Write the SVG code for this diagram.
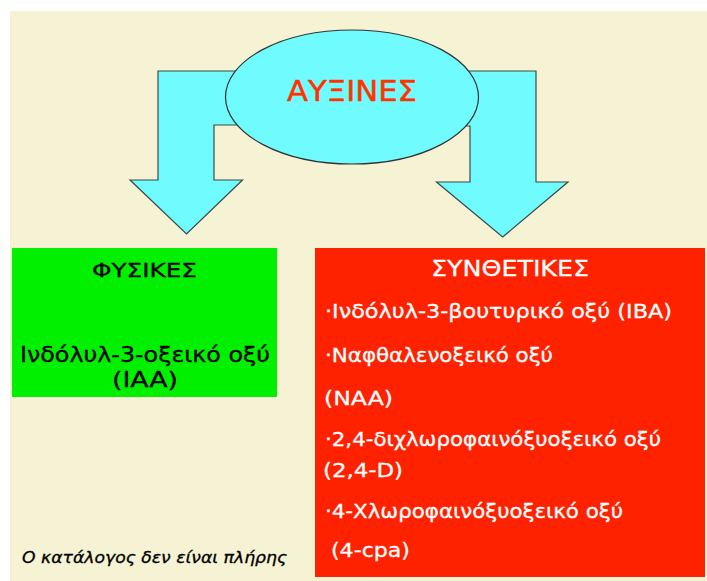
<svg xmlns="http://www.w3.org/2000/svg" width="707" height="581" viewBox="0 0 707 581">
<style>
.arrow{fill:#70FBFF;stroke:#3a4a4a;stroke-width:1.2;stroke-linejoin:miter}
.t{font-family:"DejaVu Sans","Noto Sans",sans-serif}
.w{fill:#ffffff;font-size:20px;stroke:#ffffff;stroke-width:0.3}
.k{fill:#000000;stroke:#000000;stroke-width:0.3}
</style>
<rect x="0" y="0" width="707" height="581" fill="#ffffff"/>
<rect x="10" y="11" width="697" height="570" fill="#F5F3D3"/>
<g id="connectors">
<polygon class="arrow" points="158,71 300,71 300,125 214,125 214,180 242.5,180 186.5,234 130,180 158,180"/>
<polygon class="arrow" points="536,71 400,71 400,126 470,126 470,182 436.5,182 502.7,237 568,182 536,182"/>
</g>
<g id="auxines">
<ellipse cx="352" cy="97" rx="126.5" ry="67" fill="#70FBFF" stroke="#333333" stroke-width="1.2"/>
<text class="t" x="352" y="101" font-size="29" fill="#FF3300" stroke="#FF3300" stroke-width="0.5" text-anchor="middle" textLength="130" lengthAdjust="spacingAndGlyphs">ΑΥΞΙΝΕΣ</text>
</g>
<g id="fysikes">
<rect x="12" y="248" width="265" height="149" fill="#00F000"/>
<text class="t k" x="144.5" y="277" font-size="20" stroke-width="0.7" text-anchor="middle" textLength="105" lengthAdjust="spacingAndGlyphs">ΦΥΣΙΚΕΣ</text>
<text class="t k" x="145" y="362" font-size="21" text-anchor="middle" textLength="250" lengthAdjust="spacingAndGlyphs">Ινδόλυλ-3-οξεικό οξύ</text>
<text class="t k" x="145" y="387" font-size="21" text-anchor="middle" textLength="66" lengthAdjust="spacingAndGlyphs">(IAA)</text>
</g>
<g id="synthetikes">
<rect x="315" y="248" width="390" height="329" fill="#FF2200"/>
<text class="t" x="510" y="276" font-size="21" fill="#ffffff" stroke="#ffffff" stroke-width="0.3" text-anchor="middle" textLength="158" lengthAdjust="spacingAndGlyphs">ΣΥΝΘΕΤΙΚΕΣ</text>
<text class="t w" x="325" y="318" textLength="347" lengthAdjust="spacingAndGlyphs">·Ινδόλυλ-3-βουτυρικό οξύ (IBA)</text>
<text class="t w" x="325" y="362" textLength="228" lengthAdjust="spacingAndGlyphs">·Ναφθαλενοξεικό οξύ</text>
<text class="t w" x="324" y="405" textLength="69" lengthAdjust="spacingAndGlyphs">(NAA)</text>
<text class="t w" x="325" y="446" textLength="336" lengthAdjust="spacingAndGlyphs">·2,4-διχλωροφαινόξυοξεικό οξύ</text>
<text class="t w" x="323" y="477" textLength="80" lengthAdjust="spacingAndGlyphs">(2,4-D)</text>
<text class="t w" x="325" y="518" textLength="298" lengthAdjust="spacingAndGlyphs">·4-Χλωροφαινόξυοξεικό οξύ</text>
<text class="t w" x="331" y="557" textLength="79" lengthAdjust="spacingAndGlyphs">(4-cpa)</text>
</g>
<g id="footer">
<text class="t k" x="22" y="563" font-size="16" font-style="italic" stroke-width="0.2" textLength="265" lengthAdjust="spacingAndGlyphs">Ο κατάλογος δεν είναι πλήρης</text>
</g>
</svg>
